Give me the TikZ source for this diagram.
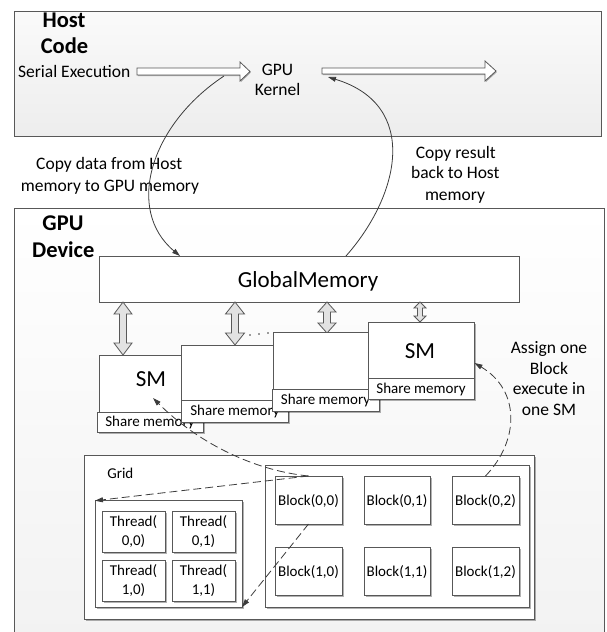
\documentclass[tikz,border=0pt]{standalone}
\usepackage{fontspec}
\setmainfont{Carlito}
\usetikzlibrary{arrows.meta,shadows,calc}
\definecolor{lg}{RGB}{88,88,88}
\definecolor{arrfill}{RGB}{226,226,226}
\definecolor{dk}{RGB}{60,60,60}
\newcommand\hollowR[6]{%
  \filldraw[harrow] ({#1},{#3-#4}) -- ({#2-#6},{#3-#4}) -- ({#2-#6},{#3-#5}) -- ({#2},{#3}) -- ({#2-#6},{#3+#5}) -- ({#2-#6},{#3+#4}) -- ({#1},{#3+#4}) -- cycle;}
\newcommand\hollowUD[6]{%
  \filldraw[varrow] ({#1},{#2}) -- ({#1+#5},{#2+#6}) -- ({#1+#4},{#2+#6}) -- ({#1+#4},{#3-#6}) -- ({#1+#5},{#3-#6}) -- ({#1},{#3}) -- ({#1-#5},{#3-#6}) -- ({#1-#4},{#3-#6}) -- ({#1-#4},{#2+#6}) -- ({#1-#5},{#2+#6}) -- cycle;}
\begin{document}
\begin{tikzpicture}[x=1pt,y=-1pt,
  box/.style={draw=lg, fill=white, line width=0.8pt, inner sep=0pt, outer sep=0pt, anchor=north west},
  sbox/.style={box, drop shadow={shadow xshift=1.5pt, shadow yshift=-1.5pt, fill=black, opacity=0.3}},
  txt/.style={inner sep=0pt, outer sep=0pt, anchor=base, font=\fontsize{17.5}{21}\selectfont},
  btxt/.style={txt, font=\fontsize{22.5}{26}\selectfont\bfseries},
  bigtxt/.style={txt, font=\fontsize{23}{27}\selectfont},
  stxt/.style={txt, font=\fontsize{15}{18}\selectfont},
  harrow/.style={draw=lg, fill=white, line width=0.8pt, drop shadow={shadow xshift=0.8pt, shadow yshift=-1.2pt, fill=black, opacity=0.3}},
  varrow/.style={draw=lg, fill=arrfill, line width=0.8pt},
  conn/.style={draw=dk, line width=0.8pt, -{Triangle[length=8pt,width=5pt]}},
  dconn/.style={draw=dk, line width=0.8pt, dash pattern=on 8pt off 4pt, -{Triangle[length=8pt,width=5pt]}}
]
\useasboundingbox (0,0) rectangle (606,632);

% host
\node[box, top color=black!2, bottom color=black!7, minimum width=587, minimum height=125] (host) at (14,11) {};
\node[btxt] (hostl1) at (64,27.3) {Host};
\node[btxt] (hostl2) at (64.5,53.3) {Code};
\node[txt] (serial) at (74.2,77) {Serial Execution};
\node[txt] (kgpu) at (277.5,75) {GPU};
\node[txt] (kker) at (277.5,95) {Kernel};
\hollowR{137}{250}{71.5}{3.5}{9.5}{10}
\hollowR{322}{496}{71}{3}{10}{11}

% labels between
\node[txt] (cd1) at (109.2,169) {Copy data from Host};
\node[txt] (cd2) at (110,191) {memory to GPU memory};
\node[txt] (cr1) at (455.8,158) {Copy result};
\node[txt] (cr2) at (455.3,178.3) {back to Host};
\node[txt] (cr3) at (455,200.7) {memory};

% gpu device
\node[box, draw=none, top color=white, bottom color=black!5, minimum width=591, minimum height=424] (gpu) at (14,208) {};
\draw[lg, line width=0.8pt] (14,632) -- (14,208) -- (604.5,208) -- (604.5,632);
\node[btxt] (gpul1) at (63,230) {GPU};
\node[btxt] (gpul2) at (63.3,257.7) {Device};

% global memory
\node[box, minimum width=420, minimum height=46] (global) at (99,256) {};
\node[bigtxt] (globaltxt) at (308,287.3) {GlobalMemory};

% double arrows
\hollowUD{123}{302}{355}{3.5}{9}{12}
\hollowUD{235}{302}{345}{3.5}{9.5}{12}
\hollowUD{327}{302}{333}{3.5}{9}{10}
\hollowUD{420}{302}{322}{2.5}{6}{6}
\fill[dk] (250,335) circle (0.9) (259,334) circle (0.9) (268,333) circle (0.9);

% SMs
\node[sbox, minimum width=104, minimum height=57] (sm1) at (99,355.7) {};
\node[bigtxt] (sm1t) at (151,386.7) {SM};
\node[sbox, minimum width=106, minimum height=20] (sh1) at (97.3,412.7) {};
\node[stxt] (sh1t) at (150,426.7) {Share memory};
\node[sbox, minimum width=106.3, minimum height=55.7] (sm2) at (181.7,345) {};
\node[sbox, minimum width=106.3, minimum height=22] (sh2) at (181.7,400.7) {};
\node[stxt] (sh2t) at (235,415) {Share memory};
\node[sbox, minimum width=106, minimum height=56.3] (sm3) at (273,332.7) {};
\node[sbox, minimum width=107, minimum height=22.7] (sh3) at (272,389) {};
\node[stxt] (sh3t) at (325.5,404.3) {Share memory};
\node[sbox, minimum width=106, minimum height=56] (sm4) at (368,322) {};
\node[bigtxt] (sm4t) at (420,358.3) {SM};
\node[sbox, minimum width=106, minimum height=21] (sh4) at (368,378) {};
\node[stxt] (sh4t) at (421,393.3) {Share memory};

% assign label
\node[txt] (as1) at (549,353.3) {Assign one};
\node[txt] (as2) at (549,374) {Block};
\node[txt] (as3) at (549,394.5) {execute in};
\node[txt] (as4) at (549,415) {one SM};

% grid
\node[sbox, minimum width=450, minimum height=163.3] (grid) at (84,455.7) {};
\node[stxt, anchor=base west] (gridt) at (107.3,478.3) {Grid};
\node[sbox, minimum width=147, minimum height=106.3] (thr) at (95,500.7) {};
\foreach \nm/\x/\y/\a/\b in {t00/102/511.7/0/0, t01/172/511.7/0/1, t10/102/560.7/1/0, t11/172/560.7/1/1}{
  \node[sbox, minimum width=63, minimum height=40.3] (\nm) at (\x,\y) {};
  \node[stxt] (\nm a) at ($(\x,\y)+(31.5,15)$) {Thread(};
  \node[stxt] (\nm b) at ($(\x,\y)+(31.5,33.3)$) {\a,\b)};
}
\node[sbox, minimum width=264, minimum height=141.3] (blk) at (265,465.7) {};
\foreach \nm/\x/\w/\y/\a/\b in {b00/275/67/476/0/0, b01/364/66/476/0/1, b02/452/67/476/0/2, b10/275/67/547/1/0, b11/364/66/547/1/1, b12/452/67/547/1/2}{
  \node[sbox, minimum width=\w, minimum height=48] (\nm) at (\x,\y) {};
  \node[stxt] (\nm t) at ($(\nm.center)+(0,5.3)$) {Block(\a,\b)};
}

% connectors
\coordinate (c1s) at (224,76);
\coordinate (gm1) at (180,256);
\coordinate (gm2) at (346,256);
\coordinate (kern) at (328,77);
\draw[conn] (c1s) .. controls (150,125) and (125,210) .. (gm1);
\draw[conn] (gm2) .. controls (400,195) and (420,105) .. (kern);

\coordinate (sm1in) at (153,398);
\coordinate (sm4in) at (474.5,363);
\draw[dconn] (b00.north) .. controls (250,470) and (195,440) .. (sm1in);
\draw[dconn] (b00.north) -- (thr.north west);
\draw[dconn] (b00.south) -- (thr.south east);
\draw[dconn] (b02.north) .. controls (520,440) and (520,390) .. (sm4in);
\end{tikzpicture}
\end{document}
